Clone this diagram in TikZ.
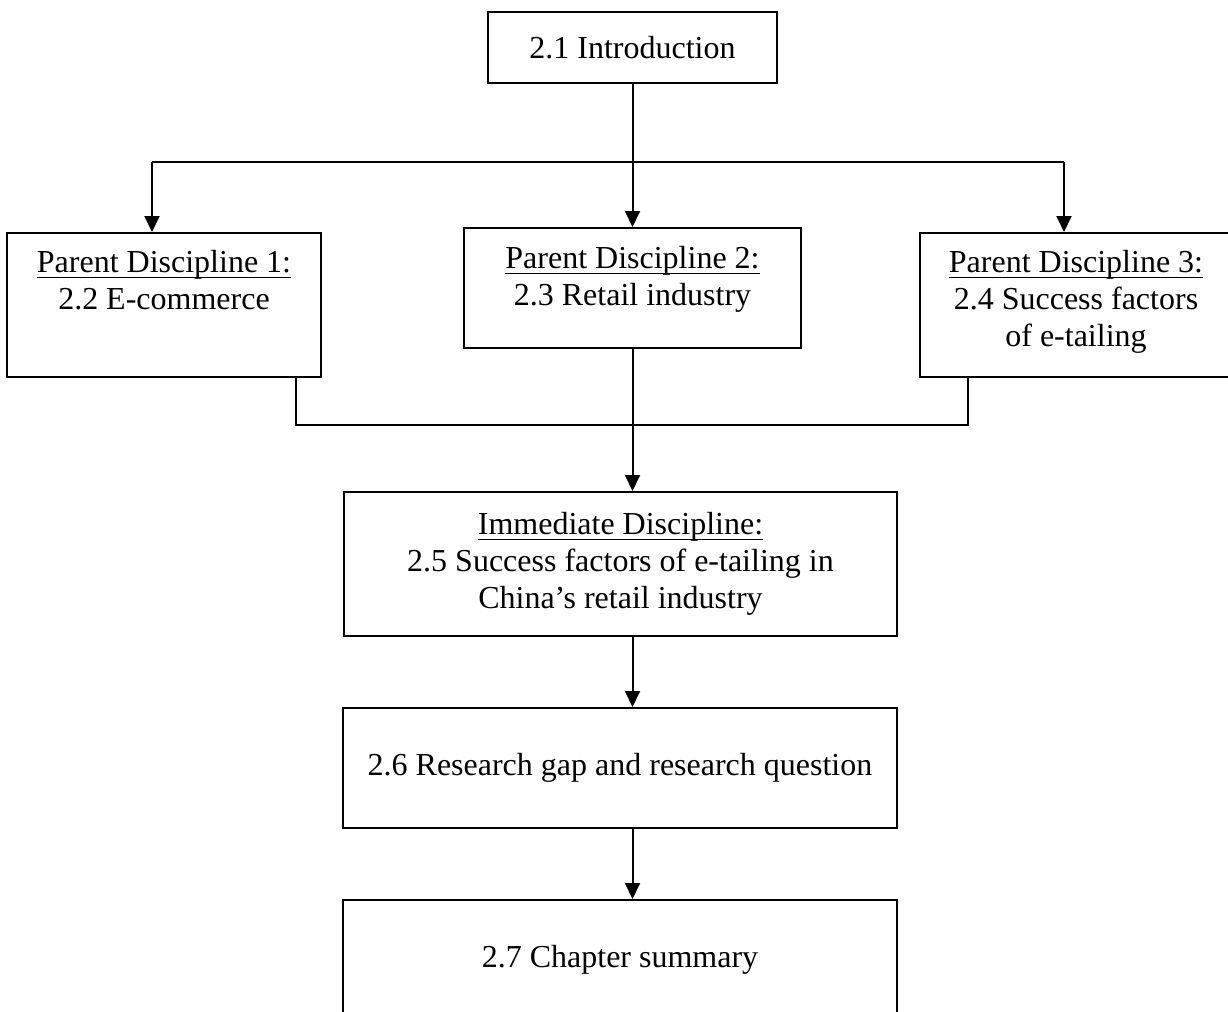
\documentclass[tikz,border=0pt]{standalone}
\usepackage{fontspec}
\setmainfont{Liberation Serif}
\usetikzlibrary{arrows.meta}
% Word-style underline: a thin rule just below the baseline
\newcommand{\ulword}[1]{\setbox0=\hbox{#1}\rlap{\rule[-2.8pt]{\wd0}{0.7pt}}\box0}
\begin{document}
\begin{tikzpicture}[x=0.5pt, y=-0.5pt,
  txt/.style={font=\fontsize{16}{18.5}\selectfont, align=center, inner sep=0pt},
  box/.style={txt, draw, line width=1pt},
  link/.style={line width=1pt},
  arrow/.style={link, -{Triangle[length=8pt,width=7.5pt]}}]
\useasboundingbox (0,0) rectangle (1228,1012);

% boxes
\node[box, minimum width=144.5pt, minimum height=35.5pt] (intro) at (632.5,47.5) {2.1 Introduction};
\node[box, minimum width=157pt, minimum height=72pt] (pd1) at (164,305) {};
\node[box, minimum width=168.5pt, minimum height=60pt] (pd2) at (632.5,288) {};
\node[box, minimum width=156pt, minimum height=72pt] (pd3) at (1076,305) {};
\node[box, minimum width=276.5pt, minimum height=72pt] (imm) at (620.5,564)
  {\ulword{Immediate Discipline:}\\2.5 Success factors of e-tailing in\\China’s retail industry};
\node[box, minimum width=277pt, minimum height=60pt] (gap) at (620,768) {2.6 Research gap and research question};
\node[box, minimum width=277pt, minimum height=60pt] (sum) at (620,960) {2.7 Chapter summary};

% texts of the parent disciplines, set from the top of their boxes
\node[txt, anchor=north] (pd1t) at (164,250) {\ulword{Parent Discipline 1:}\\2.2 E-commerce};
\node[txt, anchor=north] (pd2t) at (632.5,246) {\ulword{Parent Discipline 2:}\\2.3 Retail industry};
\node[txt, anchor=north] (pd3t) at (1076,250) {\ulword{Parent Discipline 3:}\\2.4 Success factors\\of e-tailing};

% branching from the introduction
\coordinate (j1) at (152,162);
\coordinate (j3) at (1064,162);
\draw[arrow] (intro.south) -- (pd2.north);
\draw[link] (j1) -- (j3);
\draw[arrow] (j1) -- (j1 |- pd1.north);
\draw[arrow] (j3) -- (j3 |- pd3.north);

% merging into the immediate discipline
\coordinate (k1) at (296,425);
\coordinate (k3) at (968,425);
\draw[link] (k1 |- pd1.south) -- (k1) -- (k3) -- (k3 |- pd3.south);
\draw[arrow] (pd2.south) -- (pd2.south |- imm.north);

% down the chain, on the same vertical as the one above
\draw[arrow] (imm.south -| pd2.south) -- (gap.north -| pd2.south);
\draw[arrow] (gap.south -| pd2.south) -- (sum.north -| pd2.south);
\end{tikzpicture}
\end{document}
